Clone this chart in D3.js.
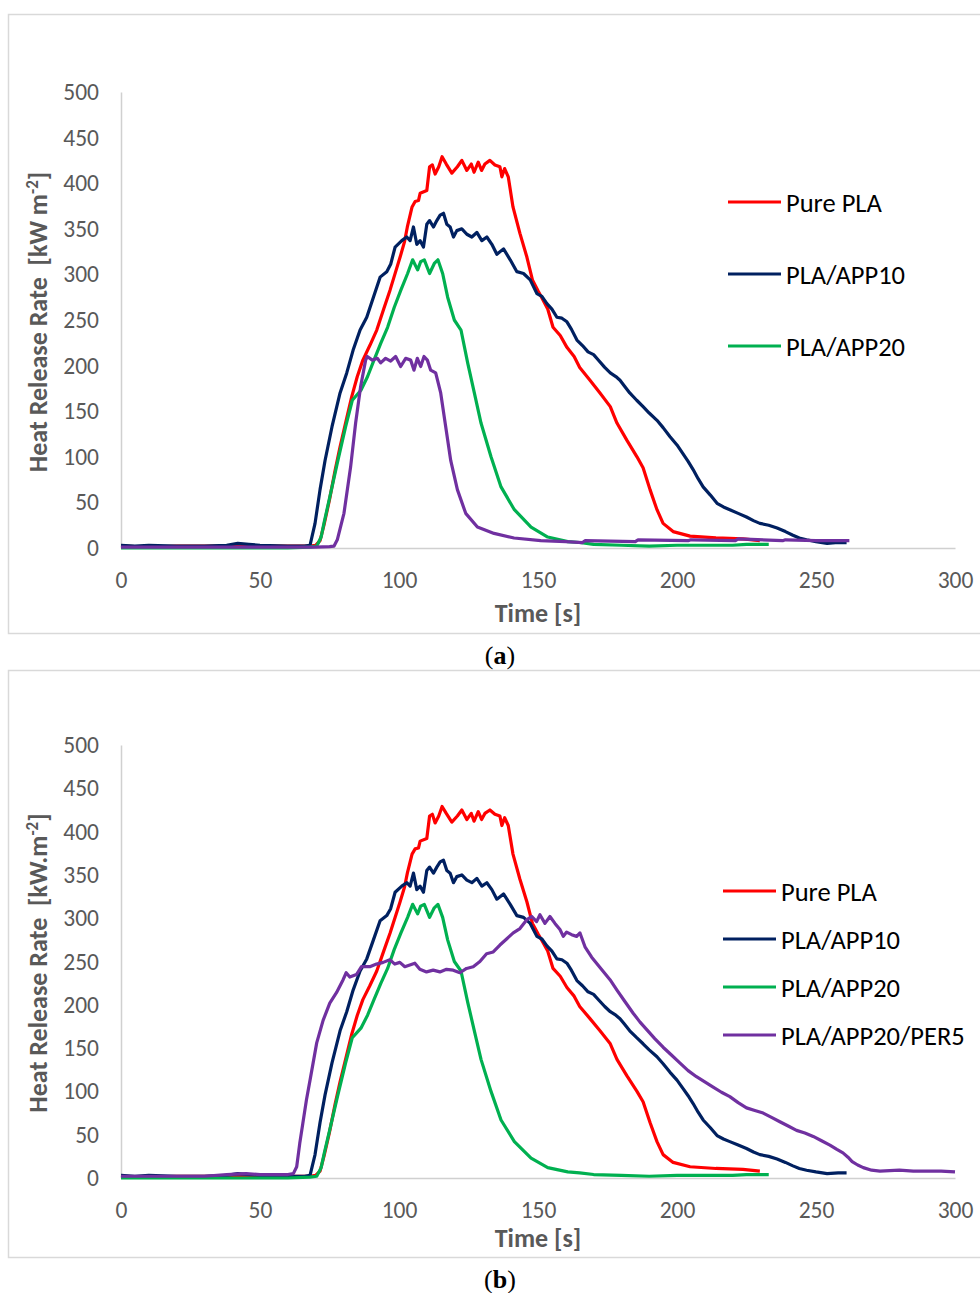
<!DOCTYPE html>
<html><head><meta charset="utf-8">
<script src="https://cdn.jsdelivr.net/npm/d3@7"></script>
<style>
body{margin:0;background:#fff;}
svg{display:block;}
</style></head>
<body><svg id="c" width="980" height="1293"></svg>
<script>
// ---------- DATA ----------
const xTicks = [0, 50, 100, 150, 200, 250, 300];
const yTicks = [0, 50, 100, 150, 200, 250, 300, 350, 400, 450, 500];

const purePLA = [[0,2],[10,1],[20,2],[30,2],[40,2],[50,2],[60,2],[68,2],[70,3],[71.6,8],[73,25],[75,53],[77,85],[78.8,111],[81,140],[83,166],[85,188],[87,206],[89.5,222],[92,239],[94.5,262],[96.8,283],[98.5,300],[100.4,319],[102,336],[103,352],[104.7,374],[105.8,380],[107,381],[107.6,389],[110,392],[111,418],[112,420],[113,410],[114.3,418],[115.5,429],[117,421],[119,411],[121,418],[122.6,425],[124.4,414],[126,421],[127,412],[128.5,423],[129.7,414],[130.9,421],[132.7,425],[134.5,420],[136.3,418],[137,407],[138,416],[139.3,407],[141,374],[143.5,345],[146,319],[148,294],[150,282],[151.8,272],[153.5,262],[155.4,242],[158,233],[160.4,220],[163,210],[165,198],[168.7,184],[172.3,170],[176,155],[178.4,137],[182,118],[185.6,100],[187.8,88],[190.3,64],[192.8,42],[195,27],[198.6,18],[204.7,13],[214,11],[223.7,10],[229.8,8]];

const plaApp10 = [[0,3],[5,2],[10,3],[20,2],[30,2],[38,3],[42,5],[46,4],[50,3],[60,2],[66,2],[68,3],[69.8,27],[71.6,64],[73.4,96],[75.9,133],[78.8,170],[81.2,192],[83.5,217],[86,239],[88.4,253],[90.8,275],[93.2,297],[95.6,303],[97,311],[98.6,330],[101,337],[102.8,341],[104,337],[105.2,352],[106.4,333],[107.6,337],[108.8,330],[110,355],[111,359],[112.4,352],[113.6,359],[114.8,365],[116,367],[117.2,355],[118.4,352],[119.6,341],[120.8,348],[122.6,350],[124.4,344],[126.2,341],[128,346],[129.8,337],[131.6,341],[133.4,333],[135.2,322],[137.6,328],[140,316],[142.4,303],[144.8,301],[147.2,294],[149.6,279],[151.4,276],[153.2,268],[155,262],[156.8,253],[158.6,252],[160.4,248],[162,240],[164,228],[166,222],[168,215],[170,212],[172,205],[174,198],[176,192],[178,188],[179.5,184],[181,178],[183,170],[185.5,162],[187.8,155],[190,148],[192.8,140],[195,132],[197.5,122],[200,113],[202,104],[204,95],[205.8,86],[207.6,76],[209.4,67],[212,58],[214.4,49],[216.7,45],[219,42],[222,38],[225,34],[227.5,30],[229.8,27],[233,25],[236,22],[239,18],[241.7,14],[244,11],[246.6,9],[250,7],[254,5],[258,6],[261,6]];

const plaApp20 = [[0,0],[20,0],[40,0],[60,0],[68,1],[70.4,2],[72,12],[73,27],[75.4,60],[77.8,93],[80.8,133],[83.2,162],[86.3,173],[88.7,188],[91,206],[93.5,225],[95.9,242],[98.3,264],[100.7,283],[103.1,301],[104.9,316],[106.7,305],[107.8,314],[109.1,316],[111,301],[112.7,312],[114,316],[115.7,301],[117.5,275],[119.9,250],[122.3,239],[124.7,203],[127.1,170],[129.5,137],[133.1,100],[136.7,67],[141.5,42],[147.5,23],[153.5,12],[160.7,7],[165,6],[170,4],[180,3],[190,2],[200,3],[210,3],[220,3],[225,4],[233,4]];

const unlabeledA = [[0,1],[20,1],[40,1],[60,1],[70,1],[75,1.5],[76.6,2],[77.8,9],[80.2,38],[82.6,89],[84.4,137],[86.2,177],[88,206],[88.6,210],[90.4,206],[92.2,208],[93.4,203],[95.2,208],[97,205],[98.8,210],[100.6,199],[102.4,208],[104.2,206],[105.4,195],[106.6,208],[107.8,199],[109,210],[110.2,206],[111.4,195],[113.2,192],[115,170],[116.8,133],[118.6,96],[121,64],[124,38],[128.2,23],[134.2,16],[141.4,11],[151,8],[160,7],[166,6],[167,8],[185,7],[186,9],[204,8],[205,9],[221,8],[222,10],[238,8],[239,9],[250,8],[262,8]];

const plaApp20Per5 = [[0,2],[10,2],[20,2],[30,2],[38,4],[45,5],[50,4],[55,4],[60,4],[62,5],[63.2,13],[64.3,40],[65.4,63],[66.7,90],[68,113],[70.4,156],[72.7,182],[75.1,202],[77.5,214],[79.9,229],[81,237],[82.3,232],[84.7,235],[86.5,244],[89.5,244],[91.9,247],[94.3,249],[96.7,252],[98.5,247],[100.3,249],[102.1,244],[103.9,246],[105.7,248],[107.5,241],[109.9,238],[112.3,240],[114.7,238],[117.1,241],[119.5,240],[121.9,237],[124.3,242],[126.7,244],[129.1,250],[131.5,259],[133.9,261],[136.3,269],[138.7,276],[141.1,283],[143.5,288],[145.9,298],[147.7,302],[149.5,296],[150.7,304],[152.5,294],[154.3,302],[156.1,294],[157.9,287],[159.1,279],[160.3,284],[162.1,281],[163.9,279],[165.1,283],[166.9,267],[169.3,255],[172.3,243],[175.9,229],[178.4,217],[181,205],[184.3,190],[186.7,180],[189.2,171],[192,161],[195,151],[198,142],[201,133],[204,124],[207,117],[210,111],[213,105],[216,99],[219,94],[222,87],[225,81],[228,78],[231,75],[234,70],[237,65],[240,60],[243,55],[246,52],[249,48],[252,43],[255,38],[257.5,33],[259.7,29],[261.5,24],[263,19],[265,15],[267,12],[270,9],[273,8],[280,9],[285,8],[290,8],[295,8],[300,7]];

const seriesNamesA = ["Pure PLA", "PLA/APP10", "PLA/APP20", null];
const seriesNamesB = ["Pure PLA", "PLA/APP10", "PLA/APP20", "PLA/APP20/PER5"];
const colors = ["#ff0000", "#002060", "#00b050", "#7030a0"];

// ---------- DRAW ----------
const svg = d3.select("#c");
const tickFont = "Carlito, Lato, 'Liberation Sans', sans-serif";

function drawChart(cfg) {
  const g = svg.append("g");
  g.append("rect").attr("x", 8.5).attr("y", cfg.frameTop + 0.5)
    .attr("width", 990).attr("height", cfg.frameH)
    .attr("fill", "#fff").attr("stroke", "#d9d9d9").attr("stroke-width", 1.5);

  const x = d3.scaleLinear().domain([0, 300]).range([121, 955]);
  const y = d3.scaleLinear().domain([0, 500]).range([cfg.y0, cfg.y500]);

  const xa = g.append("g").attr("transform", `translate(0,${cfg.y0})`)
    .call(d3.axisBottom(x).tickValues(xTicks).tickSize(0).tickPadding(cfg.xPad));
  const ya = g.append("g").attr("transform", "translate(121,0)")
    .call(d3.axisLeft(y).tickValues(yTicks).tickSize(0).tickPadding(22));
  [xa, ya].forEach(a => {
    a.select(".domain").attr("stroke", "#d0d0d0").attr("stroke-width", 1.5);
    a.selectAll("text").attr("fill", "#595959").style("font-family", tickFont).style("font-size", "23.5px");
  });

  const line = d3.line().x(d => x(d[0])).y(d => y(d[1]));
  cfg.series.forEach((s, i) => {
    g.append("path").datum(s).attr("d", line).attr("fill", "none")
      .attr("stroke", colors[i]).attr("stroke-width", 3.2).attr("stroke-linejoin", "round");
  });

  // axis titles
  g.append("text").attr("x", 538).attr("y", cfg.xTitleY).attr("text-anchor", "middle")
    .attr("fill", "#595959").style("font-family", tickFont).style("font-size", "26px").style("font-weight", "bold")
    .text("Time [s]");
  const yt = g.append("text").attr("transform", `translate(47,${cfg.yTitleC}) rotate(-90)`)
    .attr("text-anchor", "middle").attr("fill", "#595959").style("white-space", "pre")
    .style("font-family", tickFont).style("font-size", "26px").style("font-weight", "bold");
  yt.append("tspan").text(cfg.yTitle);
  yt.append("tspan").attr("dy", -9).style("font-size", "17px").text("-2");
  yt.append("tspan").attr("dy", 9).text("]");

  // legend
  let k = 0;
  cfg.names.forEach((n, i) => {
    if (!n) return;
    const ly = cfg.legY + k * cfg.legStep;
    g.append("line").attr("x1", cfg.legX).attr("x2", cfg.legX + 53).attr("y1", ly).attr("y2", ly)
      .attr("stroke", colors[i]).attr("stroke-width", 3.2);
    g.append("text").attr("x", cfg.legX + 58).attr("y", ly).attr("dy", "0.36em")
      .attr("fill", "#000").style("font-family", tickFont).style("font-size", "26.5px").text(n);
    k++;
  });

  // caption
  const cap = svg.append("text").attr("x", 500).attr("y", cfg.capY).attr("text-anchor", "middle")
    .style("font-family", "'Liberation Serif', 'DejaVu Serif', serif").style("font-size", "26px").attr("fill", "#000");
  cap.append("tspan").text("(");
  cap.append("tspan").style("font-weight", "bold").text(cfg.cap);
  cap.append("tspan").text(")");
}

drawChart({
  frameTop: 14, frameH: 619, y0: 548, y500: 92, xPad: 23, xTitleY: 622, yTitleC: 322,
  yTitle: "Heat Release Rate  [kW m", series: [purePLA, plaApp10, plaApp20, unlabeledA],
  names: seriesNamesA, legX: 728, legY: 202, legStep: 72, capY: 664, cap: "a"
});
drawChart({
  frameTop: 670, frameH: 587, y0: 1178, y500: 745, xPad: 23, xTitleY: 1247, yTitleC: 963,
  yTitle: "Heat Release Rate  [kW.m", series: [purePLA, plaApp10, plaApp20, plaApp20Per5],
  names: seriesNamesB, legX: 723, legY: 891, legStep: 48, capY: 1288, cap: "b"
});
</script></body></html>
